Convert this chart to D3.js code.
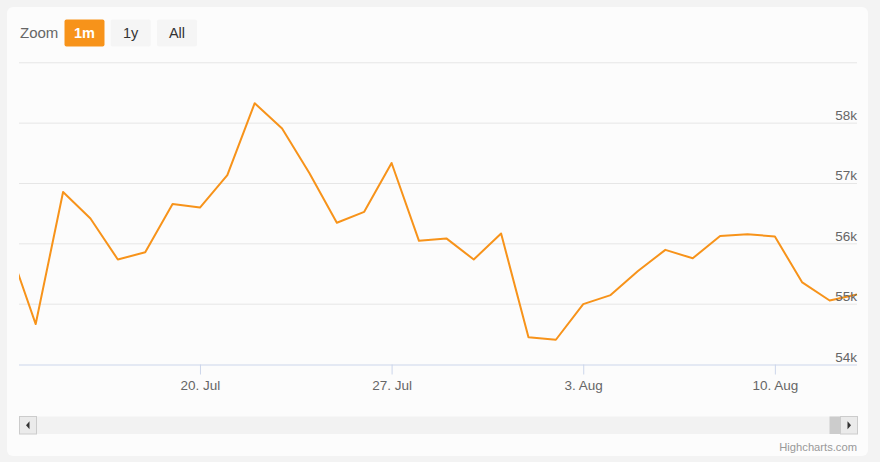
<!DOCTYPE html>
<html><head><meta charset="utf-8">
<script src="https://cdn.jsdelivr.net/npm/d3@7"></script>
<style>
html,body{margin:0;padding:0;background:#f3f3f3;}
svg{display:block;font-family:"Liberation Sans",Arial,Helvetica,sans-serif;}
</style></head><body>
<svg id="c" width="880" height="462"></svg>
<script>
// Daily values, 13 Jul – 13 Aug
const dates = ["2020-07-13","2020-07-14","2020-07-15","2020-07-16","2020-07-17","2020-07-18","2020-07-19","2020-07-20","2020-07-21","2020-07-22","2020-07-23","2020-07-24","2020-07-25","2020-07-26","2020-07-27","2020-07-28","2020-07-29","2020-07-30","2020-07-31","2020-08-01","2020-08-02","2020-08-03","2020-08-04","2020-08-05","2020-08-06","2020-08-07","2020-08-08","2020-08-09","2020-08-10","2020-08-11","2020-08-12","2020-08-13"];
const values = [55975,54670,56860,56420,55740,55860,56660,56600,57140,58330,57910,57170,56350,56530,57340,56050,56090,55740,56170,54450,54410,55000,55150,55550,55900,55760,56130,56160,56120,55360,55060,55160];
const yTicks = [54000,55000,56000,57000,58000,59000];
const xTickDates = ["2020-07-20","2020-07-27","2020-08-03","2020-08-10"];
const zoomButtons = ["1m","1y","All"];

const parse = d3.utcParse("%Y-%m-%d");
const data = dates.map((d,i)=>({t:parse(d), v:values[i]}));
const svg = d3.select("#c");

// card
svg.append("rect").attr("x",7).attr("y",7).attr("width",861).attr("height",449).attr("rx",6).attr("fill","#fcfcfc");

const L=19, R=857, T=62.8, B=364.5;
const tEnd = data[data.length-1].t;
const tStart = new Date(+parse("2020-07-13") + 0.39*86400000);
const x = d3.scaleUtc().domain([tStart,tEnd]).range([L,R]);
const y = d3.scaleLinear().domain([54000,59000]).range([B,T]);

// grid
svg.append("g").selectAll("line").data(yTicks.slice(1)).join("line")
  .attr("x1",L).attr("x2",R).attr("y1",d=>y(d)).attr("y2",d=>y(d))
  .attr("stroke","#e6e6e6").attr("stroke-width",1);

// x axis
const xt = xTickDates.map(parse);
const xAxis = d3.axisBottom(x).tickValues(xt).tickSize(10).tickPadding(3)
  .tickFormat(d=>d3.utcFormat("%-d. %b")(d));
const gx = svg.append("g").attr("transform",`translate(0,${B})`).call(xAxis);
gx.select(".domain").attr("d",`M${L},0.5H${R}`).attr("stroke","#ccd6eb");
gx.selectAll(".tick line").attr("stroke","#ccd6eb");
gx.selectAll(".tick text").attr("fill","#666").attr("font-size","13.5px").attr("dy","0.95em");

// line
svg.append("clipPath").attr("id","clip").append("rect").attr("x",L).attr("y",0).attr("width",R-L+1).attr("height",B+2);
const line = d3.line().x(d=>x(d.t)).y(d=>y(d.v));
svg.append("path").datum(data).attr("d",line).attr("clip-path","url(#clip)")
  .attr("fill","none").attr("stroke","#f7931a").attr("stroke-width",2).attr("stroke-linejoin","round");

// y labels
const gy = svg.append("g");
gy.selectAll("text").data(yTicks.slice(0,-1)).join("text")
  .attr("x",R).attr("y",d=>y(d)-3).attr("text-anchor","end")
  .attr("fill","#666").attr("font-size","13.5px").text(d=>d3.format("~s")(d));

// range selector
svg.append("text").attr("x",20).attr("y",38).attr("fill","#666").attr("font-size","15px").text("Zoom");
const bx = [64.5,110.7,157];
zoomButtons.forEach((b,i)=>{
  const g = svg.append("g");
  g.append("rect").attr("x",bx[i]).attr("y",19.5).attr("width",40).attr("height",27).attr("rx",2)
    .attr("fill", i===0?"#f7931a":"#f5f5f5");
  g.append("text").attr("x",bx[i]+20).attr("y",37.5).attr("text-anchor","middle")
    .attr("font-size","14.5px").attr("font-weight",i===0?"bold":"normal")
    .attr("fill",i===0?"#fff":"#333").text(b);
});

// scrollbar
const sy=416.5, sh=17.5;
svg.append("rect").attr("x",19).attr("y",sy).attr("width",838).attr("height",sh).attr("fill","#f2f2f2");
svg.append("rect").attr("x",829.5).attr("y",sy).attr("width",11).attr("height",sh).attr("fill","#cccccc");
[[19,"L"],[840,"R"]].forEach(([bxp,dir])=>{
  svg.append("rect").attr("x",bxp+0.5).attr("y",sy).attr("width",17).attr("height",sh)
    .attr("fill","#ebebeb").attr("stroke","#cccccc").attr("stroke-width",1);
  const cx=bxp+9, cy=sy+sh/2;
  const p = dir==="L" ? `M${cx+1.5},${cy-4}L${cx-2},${cy}L${cx+1.5},${cy+4}Z` : `M${cx-1.5},${cy-4}L${cx+2},${cy}L${cx-1.5},${cy+4}Z`;
  svg.append("path").attr("d",p).attr("fill","#333");
});

// credits
svg.append("text").attr("x",857).attr("y",451).attr("text-anchor","end").attr("fill","#999")
  .attr("font-size","11.2px").text("Highcharts.com");
</script></body></html>
